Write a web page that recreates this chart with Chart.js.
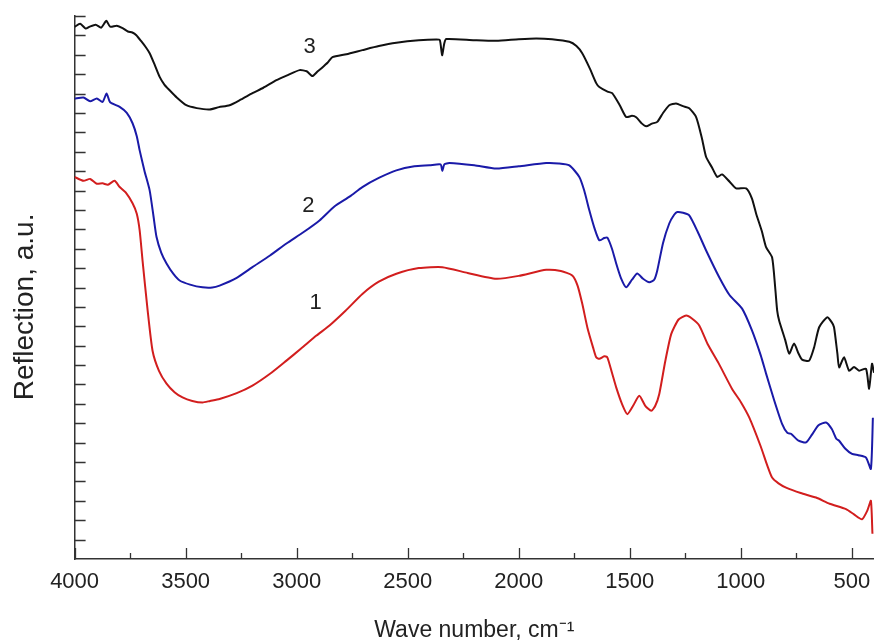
<html>
	<head>
		<meta charset="UTF-8">
		<title>Reflection spectra</title>
		<script src="https://cdn.jsdelivr.net/npm/chart.js@4.4.1/dist/chart.umd.min.js"></script>
		<style>
			html, body { margin: 0; padding: 0; background: #fff; }
			#wrap { width: 874px; height: 644px; }
		</style>
	</head>
	<body>
		<div id="wrap"><canvas id="myChart" width="874" height="644"></canvas></div>
		<script type="text/javascript">
			// sample 3 (black)
			var wave3 = [4000,3975,3950,3932,3905,3880,3857,3840,3810,3784,3760,3740,3722,3700,3680,3662,3640,3617,3595,3572,3540,3497,3450,3392,3350,3302,3250,3199,3150,3091,3040,2987,2955,2929,2905,2888,2860,2839,2776,2704,2630,2551,2450,2371,2355,2345,2335,2326,2200,2101,2000,1921,1850,1772,1740,1714,1680,1651,1637,1600,1579,1545,1516,1490,1471,1445,1426,1400,1376,1350,1322,1291,1260,1232,1201,1175,1156,1130,1106,1084,1050,1021,976,950,931,905,886,859,845,836,827,800,782,760,740,724,692,670,647,611,590,580,565,557,535,512,490,467,436,422,409,400];
			var refl3 = [27.44,27.6,27.35,27.45,27.55,27.4,27.75,27.45,27.5,27.38,27.2,27.15,27.01,26.7,26.4,26.08,25.5,24.86,24.45,24.17,23.8,23.4,23.25,23.18,23.3,23.4,23.7,24.02,24.3,24.69,24.95,25.21,25.15,24.9,25.15,25.31,25.6,25.88,26.03,26.24,26.45,26.62,26.75,26.79,26.75,25.98,26.6,26.81,26.75,26.72,26.8,26.84,26.8,26.67,26.45,26.08,25.3,24.54,24.34,24.1,24.02,23.4,22.79,22.85,22.78,22.45,22.31,22.45,22.54,23.0,23.4,23.49,23.35,23.24,22.79,21.7,20.73,20.2,19.7,19.83,19.45,19.11,19.11,18.6,17.82,16.9,16.08,15.56,14.0,12.81,12.29,11.3,10.59,11.11,10.6,10.28,10.23,10.9,11.95,12.46,12.2,11.95,10.6,9.88,10.4,9.71,9.9,9.71,9.81,8.78,10.07,9.6];

			// sample 2 (blue)
			var wave2 = [4000,3960,3930,3900,3874,3856,3840,3797,3765,3739,3720,3707,3685,3662,3645,3631,3610,3586,3555,3527,3480,3424,3380,3347,3270,3199,3120,3046,2970,2897,2830,2760,2704,2630,2551,2470,2402,2352,2344,2335,2312,2200,2101,2000,1876,1820,1772,1727,1705,1682,1660,1637,1615,1601,1580,1561,1540,1516,1490,1466,1440,1412,1390,1376,1350,1322,1300,1286,1260,1232,1195,1156,1097,1050,994,950,910,886,850,814,790,774,740,706,680,650,616,590,570,557,530,499,470,436,414,405];
			var refl2 = [23.74,23.8,23.6,23.75,23.57,24.0,23.55,23.31,23.0,22.47,21.8,21.07,20.0,19.01,17.7,16.6,15.8,15.24,14.7,14.36,14.15,14.01,14.0,14.1,14.5,15.05,15.65,16.27,16.85,17.46,18.18,18.7,19.18,19.65,20.04,20.25,20.3,20.35,20.01,20.35,20.42,20.3,20.13,20.25,20.42,20.4,20.3,19.7,19.0,17.98,17.1,16.43,16.55,16.58,16.0,15.24,14.5,14.01,14.4,14.72,14.45,14.27,14.4,14.88,16.3,17.3,17.75,17.89,17.85,17.72,16.9,15.91,14.53,13.6,12.91,11.8,10.5,9.56,8.2,6.97,6.5,6.46,6.1,6.01,6.4,6.9,7.04,6.7,6.2,6.1,5.7,5.42,5.35,5.23,4.65,7.28];

			// sample 1 (red)
			var wave1 = [4000,3960,3930,3900,3874,3850,3820,3797,3770,3739,3720,3707,3694,3671,3649,3620,3586,3550,3514,3470,3424,3390,3347,3270,3199,3120,3046,2980,2911,2852,2780,2704,2630,2551,2450,2344,2230,2101,2000,1876,1810,1759,1735,1714,1690,1665,1651,1637,1615,1601,1580,1561,1535,1511,1485,1457,1430,1403,1385,1367,1340,1313,1280,1246,1220,1187,1150,1100,1039,1000,962,910,880,859,830,796,730,661,600,526,490,454,430,414,407];
			var refl1 = [19.7,19.5,19.6,19.35,19.37,19.3,19.5,19.18,18.9,18.34,17.8,16.94,15.39,12.81,10.74,9.7,9.04,8.6,8.33,8.15,8.07,8.15,8.25,8.55,8.94,9.55,10.23,10.85,11.52,12.04,12.8,13.67,14.3,14.71,15.0,15.05,14.75,14.45,14.6,14.91,14.85,14.62,14.1,13.17,11.9,10.9,10.4,10.32,10.45,10.4,9.6,8.85,8.0,7.47,7.9,8.42,7.9,7.64,7.9,8.51,10.2,11.61,12.35,12.55,12.4,12.04,11.1,10.1,8.77,8.1,7.3,5.8,4.8,4.2,3.9,3.68,3.4,3.17,2.85,2.57,2.3,2.05,2.5,3.0,1.3];

			var curveNames = ['1', '2', '3'];
			var curveLabelWave = [2915, 2947, 2942];
			var curveLabelRefl = [13.22, 18.23, 26.4];

			var xTickValues = [500,750,1000,1250,1500,1750,2000,2250,2500,2750,3000,3250,3500,3750,4000];

			function pairs(xs, ys) {
				var out = [];
				for (var i = 0; i < xs.length; i++) {
					out.push({x: xs[i], y: ys[i]});
				}
				return out;
			}

			var FONT = "'Liberation Sans', Arial, Helvetica, sans-serif";
			var AXIS = '#333';

			// ticks point into the plot, as in the original figure
			var inwardTicks = {
				id: 'inwardTicks',
				afterDraw: function(chart) {
					var ctx = chart.ctx;
					var area = chart.chartArea;
					var x = chart.scales.x, y = chart.scales.y;
					ctx.save();
					ctx.strokeStyle = AXIS;
					ctx.lineWidth = 1.3;
					ctx.beginPath();
					x.ticks.forEach(function(t) {
						var px = Math.round(x.getPixelForValue(t.value)) + 0.5;
						var len = (t.value % 500 === 0) ? 11 : 6;
						ctx.moveTo(px, area.bottom);
						ctx.lineTo(px, area.bottom - len);
					});
					y.ticks.forEach(function(t) {
						if (t.value === 0) return;
						var py = Math.round(y.getPixelForValue(t.value)) + 0.5;
						ctx.moveTo(area.left, py);
						ctx.lineTo(area.left + 11, py);
					});
					ctx.stroke();

					ctx.fillStyle = '#222';
					ctx.font = '22px ' + FONT;
					ctx.textAlign = 'center';
					ctx.textBaseline = 'middle';
					for (var i = 0; i < curveNames.length; i++) {
						ctx.fillText(curveNames[i], x.getPixelForValue(curveLabelWave[i]), y.getPixelForValue(curveLabelRefl[i]));
					}
					ctx.restore();
				}
			};

			var ctx = document.getElementById('myChart').getContext('2d');
			var myLineChart = new Chart(ctx, {
				type: 'line',
				data: {
					datasets: [{
						label: '1',
						data: pairs(wave1, refl1),
						borderColor: '#d21e1e',
						borderWidth: 2,
						pointRadius: 0,
						tension: 0.2
					}, {
						label: '2',
						data: pairs(wave2, refl2),
						borderColor: '#1a1aa8',
						borderWidth: 2,
						pointRadius: 0,
						tension: 0.2
					}, {
						label: '3',
						data: pairs(wave3, refl3),
						borderColor: '#111111',
						borderWidth: 2,
						pointRadius: 0,
						tension: 0.2
					}]
				},
				options: {
					responsive: false,
					animation: false,
					layout: { padding: { top: 16, right: 0, bottom: 0, left: 0 } },
					plugins: { legend: { display: false }, tooltip: { enabled: false } },
					scales: {
						x: {
							type: 'linear',
							reverse: true,
							min: 400,
							max: 4000,
							afterBuildTicks: function(scale) {
								scale.ticks = xTickValues.map(function(v) { return {value: v}; });
							},
							grid: { display: true, drawOnChartArea: false, drawTicks: false },
							border: { display: true, color: AXIS, width: 1.5 },
							ticks: {
								padding: 10,
								color: '#222',
								font: { family: FONT, size: 22 },
								maxRotation: 0,
								autoSkip: false,
								callback: function(v) { return v % 500 === 0 ? String(v) : ''; }
							},
							title: {
								display: true,
								text: 'Wave number, cm\u207B\u00B9',
								color: '#222',
								font: { family: FONT, size: 23 },
								padding: { top: 11, bottom: 0 }
							}
						},
						y: {
							type: 'linear',
							min: 0,
							max: 28,
							ticks: { display: false, stepSize: 1 },
							grid: { display: true, drawOnChartArea: false, drawTicks: false },
							border: { display: true, color: AXIS, width: 1.5 },
							title: {
								display: true,
								// trailing spaces push the label down a little, like the original
								text: 'Reflection, a.u.\u00A0\u00A0\u00A0\u00A0\u00A0',
								color: '#222',
								font: { family: FONT, size: 28 },
								padding: { top: 8, bottom: 33 }
							}
						}
					}
				},
				plugins: [inwardTicks]
			});
		</script>
	</body>
</html>
